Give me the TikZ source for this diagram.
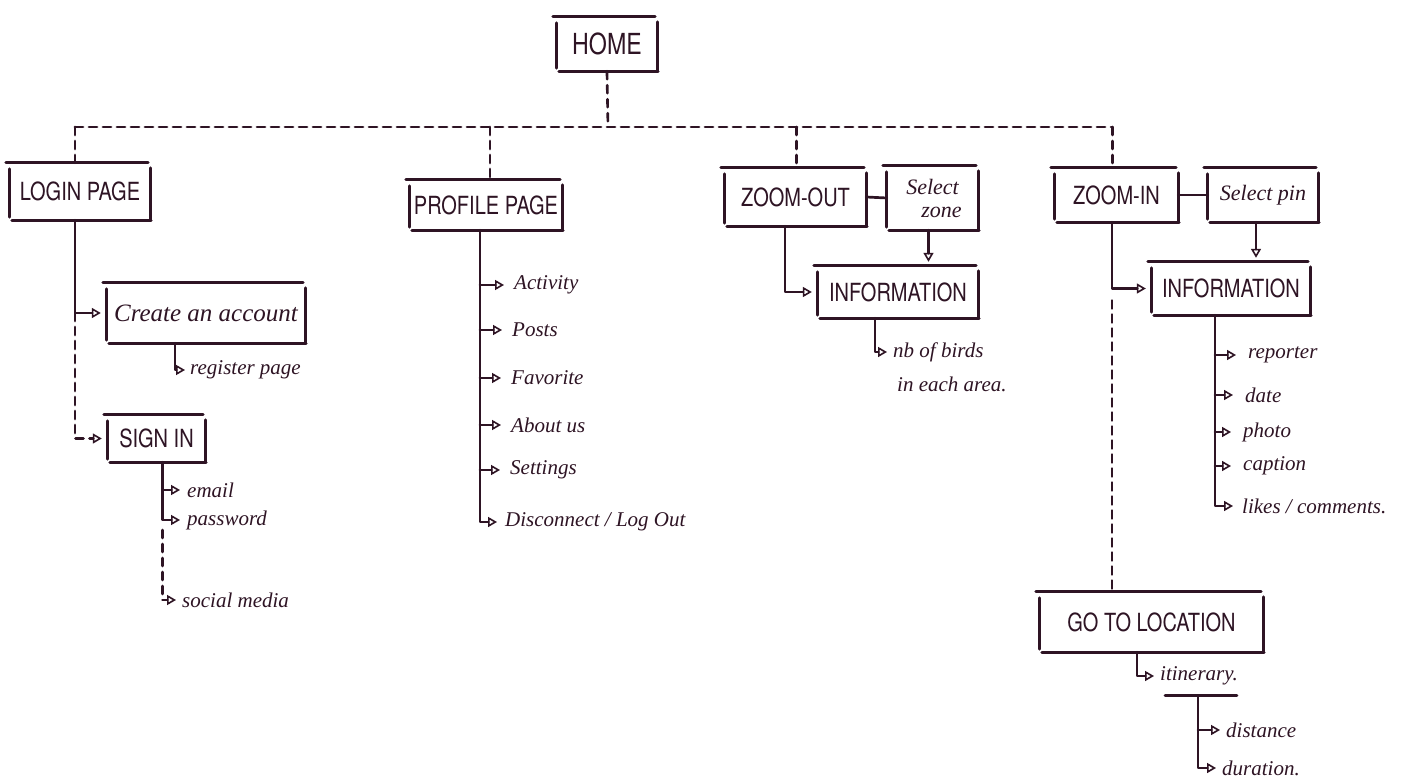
\documentclass[tikz,border=0pt]{standalone}
\usepackage{fontspec}
\newfontfamily\capsfont[FakeStretch=0.8]{TeX Gyre Heros}
\newfontfamily\handfont{Liberation Serif}
\usetikzlibrary{arrows.meta}

\definecolor{ink}{RGB}{46,20,36}

\tikzset{
  ink line/.style={draw=ink, line width=2.7pt, line cap=round, line join=round},
  wire/.style={ink line},
  dashwire/.style={ink line, dash pattern=on 8pt off 6pt},
  tip/.style={-{Triangle[open,length=9pt,width=10pt,line width=1.6pt]}, shorten >=#1},
  tip/.default=6pt,
  box/.style={inner sep=0pt, text=ink, font=\capsfont\fontsize{25}{27}\selectfont},
  handbox/.style={inner sep=0pt, text=ink, align=center, font=\handfont\itshape\fontsize{22}{23}\selectfont},
  item/.style={anchor=west, inner sep=0pt, text=ink, font=\handfont\itshape\fontsize{21}{23}\selectfont},
}

% hand-drawn frame: four separate strokes with loose corners
\newcommand\sketchframe[1]{%
  \draw[ink line] ([xshift=-4pt]#1.north west) -- ([xshift=-2pt]#1.north east);
  \draw[ink line] ([yshift=-6pt]#1.north west) -- ([yshift=3pt]#1.south west);
  \draw[ink line] ([yshift=-5pt]#1.north east) -- (#1.south east);
  \draw[ink line] ([xshift=2pt]#1.south west) -- ([xshift=1pt]#1.south east);
}

\begin{document}
\begin{tikzpicture}[x=1pt,y=-1pt]
\useasboundingbox[fill=white] (0,0) rectangle (1420,783);

% ---- boxed pages ----
\node[box, font=\capsfont\fontsize{29}{31}\selectfont, minimum width=100pt, minimum height=54pt] (home) at (607,44) {HOME};
\node[box, minimum width=140pt, minimum height=57pt] (login) at (80,191.5) {LOGIN PAGE};
\node[box, minimum width=152pt, minimum height=50pt] (profile) at (486,205) {PROFILE PAGE};
\node[box, minimum width=141pt, minimum height=58pt] (zoomout) at (795.5,197) {ZOOM-OUT};
\node[handbox, minimum width=91pt, minimum height=64pt] (selzone) at (932.5,198) {Select\\ \hspace*{18pt}zone};
\node[box, minimum width=123pt, minimum height=54pt] (zoomin) at (1116.5,195) {ZOOM-IN};
\node[handbox, minimum width=110pt, minimum height=54pt] (selpin) at (1263,195) {Select pin};
\node[box, minimum width=160pt, minimum height=52pt] (infoout) at (898,292) {INFORMATION};
\node[box, minimum width=158pt, minimum height=53pt] (infoin) at (1231,288.5) {INFORMATION};
\node[handbox, font=\handfont\itshape\fontsize{25}{27}\selectfont, minimum width=198pt, minimum height=60pt] (create) at (206,313) {Create an account};
\node[box, minimum width=97pt, minimum height=47pt] (signin) at (156.5,438.5) {SIGN IN};
\node[box, minimum width=223pt, minimum height=60pt] (goto) at (1151.5,622) {GO TO LOCATION};

\foreach \n in {home,login,profile,zoomout,selzone,zoomin,selpin,infoout,infoin,create,signin,goto}
  {\sketchframe{\n}}

% ---- leaf entries ----
\node[item] (register) at (190,370) {register page};
\node[item] (email) at (187,490) {email};
\node[item] (password) at (187,520) {password};
\node[item] (social) at (182,600) {social media};

\node[item] (activity) at (514,285) {Activity};
\node[item] (posts) at (512,330) {Posts};
\node[item] (favorite) at (511,378) {Favorite};
\node[item] (about) at (511,425) {About us};
\node[item] (settings) at (510,470) {Settings};
\node[item] (disc) at (505,522) {Disconnect / Log Out};

\node[item] (birds1) at (893,352) {nb of birds};
\node[item] (birds2) at (897,384) {in each area.};

\node[item] (reporter) at (1248,355) {reporter};
\node[item] (date) at (1245,395) {date};
\node[item] (photo) at (1243,432) {photo};
\node[item] (caption) at (1243,466) {caption};
\node[item] (likes) at (1242,506) {likes / comments.};

\node[item] (itinerary) at (1160,676) {itinerary.};
\node[item] (distance) at (1226,730) {distance};
\node[item] (duration) at (1222,768) {duration.};

% ---- top level tree (dashed) ----
\coordinate (bus) at (608,127);
\draw[dashwire] (home.south) -- (bus);
\draw[dashwire] ([xshift=-5pt]login.north |- bus) -- ([xshift=-4pt]zoomin.north |- bus);
\draw[dashwire] ([xshift=-5pt]login.north |- bus) -- ([xshift=-5pt]login.north);
\draw[dashwire] ([xshift=4pt]profile.north |- bus) -- ([xshift=4pt]profile.north);
\draw[dashwire] ([xshift=1pt]zoomout.north |- bus) -- ([xshift=1pt]zoomout.north);
\draw[dashwire] ([xshift=-4pt]zoomin.north |- bus) -- ([xshift=-4pt]zoomin.north);

% ---- login branch ----
\coordinate (lspine) at ([xshift=-5pt]login.south);
\draw[wire, tip] (lspine) |- (create.west);
\draw[dashwire, tip] (create.west -| lspine) |- (signin.west);
\draw[wire, tip=5pt] ([xshift=-31pt]create.south) |- (register.west);
\coordinate (sspine) at ([xshift=6pt]signin.south);
\draw[wire, tip=7pt] (sspine) |- (password.west);
\draw[wire, tip=7pt] (email.west -| sspine) -- (email.west);
\draw[dashwire, tip=6pt] ([yshift=-10pt]password.west -| sspine) |- (social.west);

% ---- profile branch ----
\coordinate (pspine) at ([xshift=-6pt]profile.south);
\draw[wire, tip=8pt] (pspine) |- (disc.west);
\foreach \it in {activity,posts,favorite,about,settings}
  {\draw[wire, tip=10pt] (\it.west -| pspine) -- (\it.west);}

% ---- zoom-out branch ----
\draw[wire] (zoomout.east) -- (selzone.west);
\draw[wire, tip] ([xshift=-10.5pt]zoomout.south) |- (infoout.west);
\draw[wire, tip=4pt] ([xshift=-4pt]selzone.south) -- ([xshift=-4pt]selzone.south |- infoout.north);
\draw[wire, tip=6pt] ([xshift=-23pt]infoout.south) |- (birds1.west);

% ---- zoom-in branch ----
\draw[wire] (zoomin.east) -- (selpin.west);
\coordinate (zspine) at ([xshift=-4.5pt]zoomin.south);
\draw[wire, tip] (zspine) |- (infoin.west);
\draw[dashwire] ([yshift=-12pt]infoin.west -| zspine) -- (zspine |- goto.north);
\draw[wire, tip=4pt] ([xshift=-7pt]selpin.south) -- ([xshift=-7pt]selpin.south |- infoin.north);
\coordinate (ispine) at ([xshift=-16pt]infoin.south);
\draw[wire, tip=9pt] (ispine) |- (likes.west);
\foreach \it in {reporter,date,photo,caption}
  {\draw[wire, tip=12pt] (\it.west -| ispine) -- (\it.west);}

% ---- go to location ----
\draw[wire, tip=6pt] ([xshift=-14.5pt]goto.south) |- (itinerary.west);
\coordinate (itl) at ([xshift=5pt,yshift=-10pt]itinerary.south west);
\coordinate (itr) at ([xshift=72pt]itl);
\coordinate (itm) at ([xshift=33pt]itl);
\draw[wire] (itl) -- (itr);
\draw[wire, tip=6pt] (itm) |- (duration.west);
\draw[wire, tip=6pt] (distance.west -| itm) -- (distance.west);
\end{tikzpicture}
\end{document}
